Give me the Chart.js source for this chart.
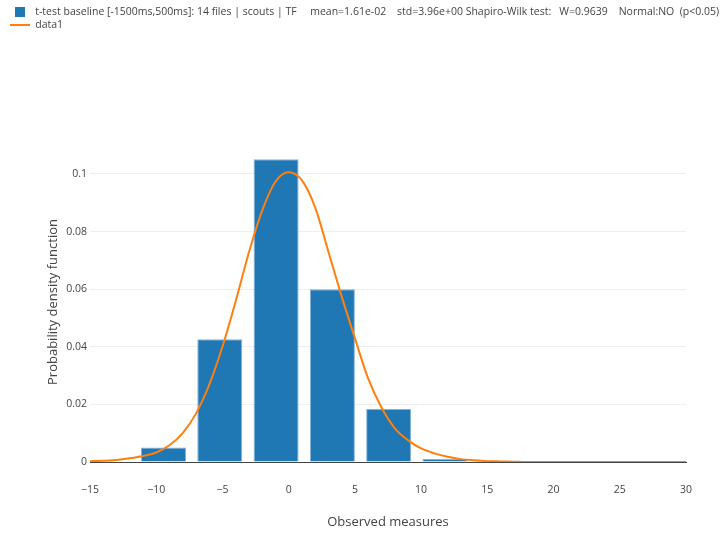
<!DOCTYPE html>
<html>
<head>
<meta charset="utf-8">
<script src="https://cdn.jsdelivr.net/npm/chart.js@4.4.1/dist/chart.umd.min.js"></script>
<style>
  html, body { margin: 0; padding: 0; background: #fff; }
  #wrap { width: 720px; height: 534px; }
</style>
</head>
<body>
<div id="wrap"><canvas id="histChart" width="720" height="534"></canvas></div>
<script>
// histogram bins (centres) and their density
const binCenters = [-9.45, -5.2, -0.95, 3.3, 7.55, 11.8, 16.05, 20.3, 24.55];
const binDensity = [0.0050, 0.0426, 0.1051, 0.0600, 0.0184, 0.0010, 0.0003, 0.0002, 0.0002];

// fitted curve "data1"
const curveX = [-15, -14, -13, -12, -11, -10, -9, -8, -7, -6, -5, -4, -3, -2, -1, 0,
	1, 2, 3, 4, 5, 6, 7, 8, 9, 10, 11, 12, 13, 14, 15, 16, 17, 18, 19, 20,
	21, 22, 23, 24, 25, 26, 27, 28, 29, 30];
const curveY = [0.0003, 0.0004, 0.0007, 0.0013, 0.0021, 0.0033, 0.0058, 0.0100, 0.0168, 0.0268,
	0.0400, 0.0558, 0.0728, 0.0873, 0.0973, 0.1006, 0.0978, 0.0884, 0.0730, 0.0575,
	0.0430, 0.0290, 0.0190, 0.0118, 0.0076, 0.0047, 0.0030, 0.0018, 0.0010, 0.0006,
	0.0003, 0.0002, 0.0001, 0, 0, 0, 0, 0, 0, 0, 0, 0, 0, 0, 0, 0];

const xTicks = [-15, -10, -5, 0, 5, 10, 15, 20, 25, 30];
const yTicks = [0, 0.02, 0.04, 0.06, 0.08, 0.1];

const histLabel = "t-test baseline [-1500ms,500ms]: 14 files | scouts | TF     mean=1.61e-02    std=3.96e+00 Shapiro-Wilk test:   W=0.9639    Normal:NO  (p<0.05)";

const BLUE = "#1f77b4";
const ORANGE = "#ff7f0e";

// small legend markers
function marker(w, h, color) {
	const c = document.createElement("canvas");
	c.width = w;
	c.height = h;
	const g = c.getContext("2d");
	g.fillStyle = color;
	g.fillRect(0, 0, w, h);
	return c;
}
const squareMark = marker(10, 10, BLUE);
const lineMark = marker(20, 2, ORANGE);

Chart.defaults.font.family = "'Open Sans', sans-serif";
Chart.defaults.color = "#444";

// push the plot area down below the legend
const legendSpacer = {
	id: "legendSpacer",
	beforeInit(chart) {
		const fit = chart.legend.fit;
		chart.legend.fit = function () {
			fit.call(this);
			this.height = 137.75;
		};
	},
};

const histData = {
	datasets: [
		{
			type: "bar",
			label: histLabel,
			data: binCenters.map((x, i) => ({ x: x, y: binDensity[i] })),
			backgroundColor: BLUE,
			borderColor: "rgba(120,170,215,0.9)",
			borderWidth: 1,
			barPercentage: 1,
			categoryPercentage: 0.8,
			pointStyle: squareMark,
			order: 2,
		},
		{
			type: "line",
			label: "data1",
			data: curveX.map((x, i) => ({ x: x, y: curveY[i] })),
			borderColor: ORANGE,
			backgroundColor: ORANGE,
			borderWidth: 2,
			pointRadius: 0,
			cubicInterpolationMode: "monotone",
			pointStyle: lineMark,
			order: 1,
		},
	],
};

const histOptions = {
	responsive: false,
	animation: false,
	layout: {
		padding: { top: 4.25, right: 0, bottom: 0, left: 7.5 },
	},
	scales: {
		x: {
			type: "linear",
			offset: false,
			min: -15,
			max: 30,
			afterFit(scale) {
				scale.height = 72;
			},
			afterBuildTicks(scale) {
				scale.ticks = xTicks.map((v) => ({ value: v }));
			},
			grid: { display: false, drawTicks: false },
			border: { color: "#444", width: 1 },
			ticks: {
				padding: 22,
				font: { size: 10.5 },
				callback: (v) => (v < 0 ? "\u2212" + Math.abs(v) : String(v)),
			},
			title: {
				display: true,
				text: "Observed measures",
				font: { size: 13 },
				padding: { top: 0, bottom: 4.2 },
			},
		},
		y: {
			min: 0,
			max: 0.1111,
			afterFit(scale) {
				scale.width = 82.5;
			},
			afterBuildTicks(scale) {
				scale.ticks = yTicks.map((v) => ({ value: v }));
			},
			grid: {
				drawTicks: false,
				color: (ctx) => (ctx.tick && ctx.tick.value === 0 ? "#444" : "#eee"),
			},
			border: { display: false },
			ticks: {
				padding: 3,
				font: { size: 10.5 },
				callback: (v) => String(Math.round(v * 100) / 100),
			},
			title: {
				display: true,
				text: "Probability density function",
				font: { size: 13 },
				padding: { top: 37.7, bottom: 0 },
			},
		},
		// empty right margin so the legend is not squeezed
		yRight: {
			position: "right",
			display: true,
			min: 0,
			max: 1,
			afterFit(scale) {
				scale.width = 34;
			},
			grid: { display: false, drawTicks: false },
			border: { display: false },
			ticks: { display: false },
		},
	},
	plugins: {
		legend: {
			display: true,
			position: "top",
			align: "start",
			labels: {
				usePointStyle: true,
				pointStyleWidth: 20,
				padding: 2.5,
				font: { size: 10.5 },
				color: "#444",
				sort: (a, b) => a.datasetIndex - b.datasetIndex,
			},
		},
		tooltip: { enabled: false },
	},
};

new Chart(document.getElementById("histChart"), {
	data: histData,
	options: histOptions,
	plugins: [legendSpacer],
});
</script>
</body>
</html>
